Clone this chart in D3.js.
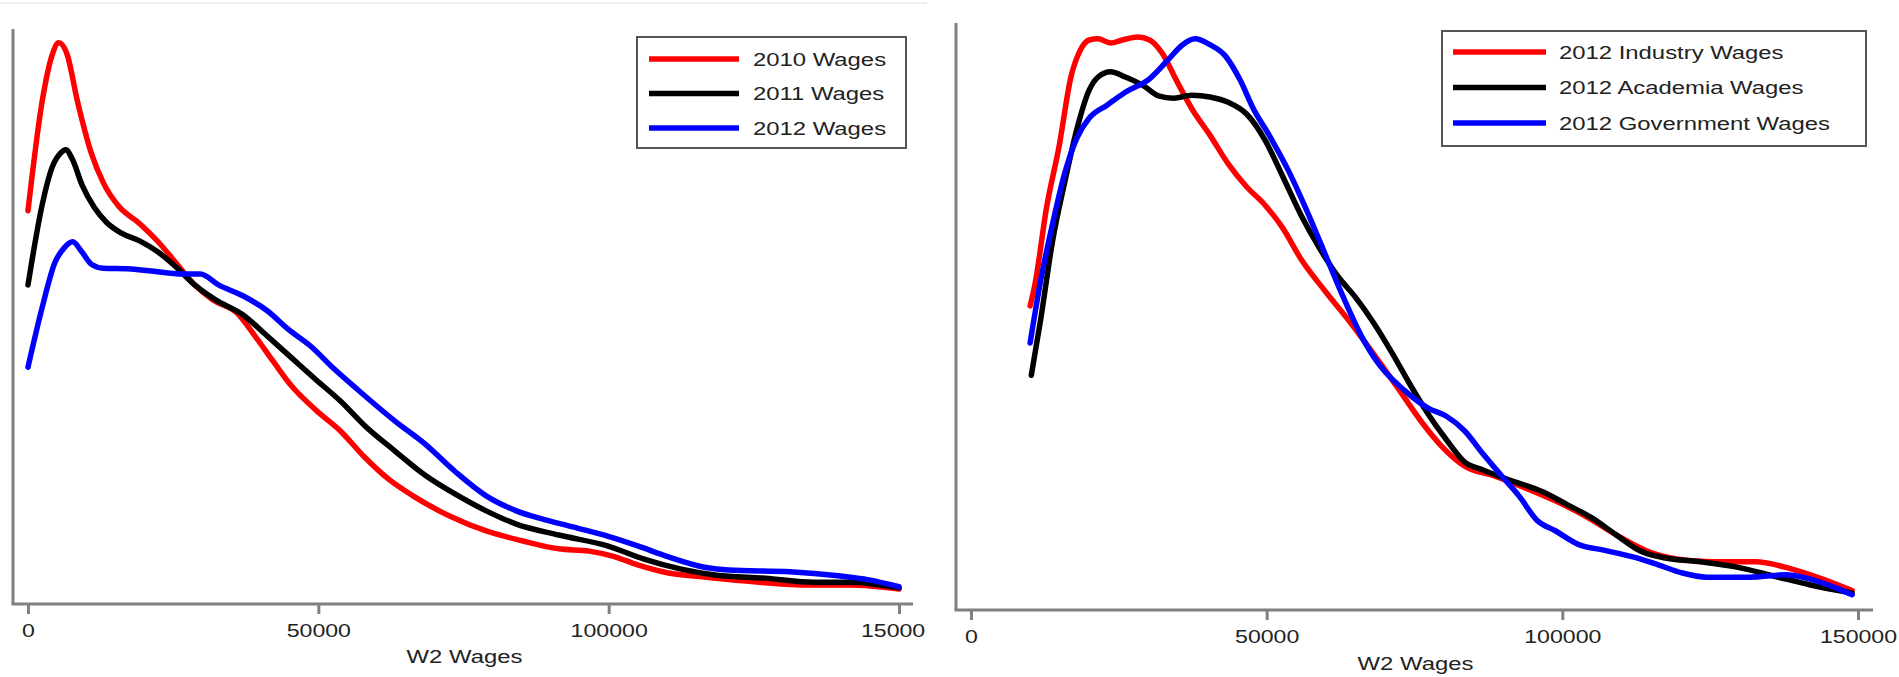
<!DOCTYPE html>
<html>
<head>
<meta charset="utf-8">
<script src="https://cdn.jsdelivr.net/npm/d3@7/dist/d3.min.js"></script>
<style>
  html, body { margin: 0; padding: 0; background: #fff; }
  svg { display: block; }
  text { font-family: "Liberation Sans", Arial, Helvetica, sans-serif; fill: #222; }
</style>
</head>
<body>
<svg id="chart" width="1899" height="677"></svg>
<script>
// Tick values shared by both panels (W2 wages, dollars)
const xTicks = [0, 50000, 100000, 150000];
const xTitle = "W2 Wages";

// Series names and colours
const yearLabels = ["2010 Wages", "2011 Wages", "2012 Wages"];
const sectorLabels = ["2012 Industry Wages", "2012 Academia Wages", "2012 Government Wages"];
const seriesColors = ["#ff0000", "#000000", "#0000ff"];

// Wage density by year (relative density, % of axis height)
const wages2010X = [0, 2500, 4100, 5300, 6700, 8500, 10900, 13000, 15600, 19300, 22400, 25500, 28700, 31800, 36000, 39100, 42300, 45400, 49600, 53800, 57900, 62100, 66300, 72600, 78900, 85100, 91400, 96600, 100800, 105000, 110300, 116500, 125900, 134300, 141600, 150000];
const wages2010Y = [68.4, 87.8, 95.3, 97.6, 95.7, 87.5, 78.4, 73.2, 69.2, 66.1, 63.0, 59.3, 55.5, 52.9, 50.6, 46.6, 42.1, 37.9, 33.7, 30.1, 25.6, 21.7, 18.8, 15.3, 12.7, 11.0, 9.6, 9.2, 8.3, 6.8, 5.4, 4.7, 3.8, 3.3, 3.3, 2.6];

const wages2011X = [0, 2500, 4100, 5600, 6500, 7700, 9300, 11400, 13500, 16100, 19300, 22400, 25500, 28700, 32300, 37000, 41200, 45400, 49600, 53800, 57900, 63200, 68400, 73600, 78900, 84100, 91400, 99800, 106100, 112300, 118600, 127000, 135400, 141600, 150000];
const wages2011Y = [55.5, 69.7, 75.8, 78.4, 79.0, 77.2, 72.9, 69.0, 66.4, 64.5, 63.1, 61.2, 58.6, 55.5, 52.9, 50.3, 46.6, 42.8, 39.0, 35.3, 31.1, 26.6, 22.4, 19.1, 16.2, 13.9, 12.0, 10.1, 7.8, 6.1, 5.0, 4.5, 3.8, 3.8, 2.8];

const wages2012X = [0, 2500, 4600, 6200, 7700, 9300, 10900, 13000, 17200, 21300, 26600, 29700, 32800, 37000, 41200, 44900, 48500, 52700, 57900, 63200, 68400, 73600, 78900, 84100, 89300, 94600, 99800, 105000, 110300, 116500, 120700, 131200, 139500, 144800, 150000];
const wages2012Y = [41.2, 51.8, 59.3, 61.9, 63.0, 61.2, 59.1, 58.4, 58.3, 57.9, 57.4, 57.4, 55.5, 53.6, 51.0, 47.7, 45.0, 40.9, 36.3, 31.8, 27.8, 23.0, 18.8, 16.2, 14.6, 13.2, 11.8, 10.1, 8.2, 6.4, 5.9, 5.6, 4.9, 4.2, 3.0];

// 2012 wage density by sector
const industryX = [10000, 10800, 12800, 14900, 16900, 18400, 20000, 21500, 23600, 25600, 28200, 30200, 32300, 34800, 37400, 40400, 43500, 46600, 49700, 52700, 55800, 59900, 64000, 68100, 72200, 76300, 79400, 83500, 88600, 93700, 98800, 103900, 109100, 114200, 119300, 125400, 132600, 138700, 143900, 149000];
const industryY = [51.8, 55.4, 68.7, 79.0, 90.8, 95.2, 97.1, 97.3, 96.6, 97.1, 97.6, 97.1, 94.9, 90.1, 85.3, 80.9, 76.0, 72.1, 69.0, 65.1, 59.8, 54.3, 49.2, 43.6, 37.8, 31.9, 28.1, 24.5, 22.8, 20.8, 18.6, 16.0, 12.8, 10.1, 8.7, 8.2, 8.2, 7.0, 5.3, 3.3];

const academiaX = [10200, 11800, 13800, 15900, 17900, 20000, 21500, 23600, 26100, 29200, 31700, 34300, 37400, 40400, 43500, 46600, 49700, 52700, 55800, 58900, 62000, 65000, 68100, 71200, 74200, 77300, 80400, 83500, 86500, 90600, 96800, 100900, 105000, 109100, 113100, 117200, 123400, 129500, 135700, 141800, 149000];
const academiaY = [40.0, 49.6, 62.9, 73.1, 81.9, 88.6, 90.8, 91.7, 90.8, 89.3, 87.6, 87.2, 87.7, 87.4, 86.5, 84.5, 80.1, 73.9, 67.3, 61.7, 56.9, 53.3, 48.9, 43.8, 38.5, 33.4, 29.0, 25.2, 23.9, 22.3, 20.1, 17.9, 15.7, 12.8, 10.1, 8.9, 8.2, 7.3, 5.8, 4.3, 2.9];

const governmentX = [10000, 11800, 13800, 15900, 17900, 20000, 23000, 26100, 30200, 33300, 35800, 37900, 40400, 43000, 45600, 47600, 50700, 53800, 56800, 59900, 63000, 66000, 69100, 73200, 77300, 80400, 83500, 86500, 89600, 92700, 95700, 98800, 102900, 107000, 112100, 116200, 120300, 124400, 131600, 137700, 141800, 145900, 149000];
const governmentY = [45.5, 56.2, 65.8, 74.6, 80.4, 83.8, 86.0, 88.2, 90.5, 93.7, 96.3, 97.3, 96.3, 94.4, 90.1, 85.7, 80.4, 74.6, 68.0, 60.6, 53.2, 46.7, 41.7, 37.5, 34.4, 33.0, 30.5, 26.7, 23.0, 19.4, 15.3, 13.5, 11.1, 10.2, 9.0, 7.7, 6.3, 5.6, 5.6, 6.0, 5.3, 3.9, 2.6];

// Glyphs in this figure are rendered wider than they are tall
const TEXT_STRETCH = 1.29;

const svg = d3.select("#chart");

// faint frame edge above the left panel
svg.append("line")
  .attr("x1", 0).attr("x2", 927).attr("y1", 3).attr("y2", 3)
  .attr("stroke", "#eeeeee").attr("stroke-width", 2);

function stretchedText(g, x, y, str, anchor) {
  return g.append("text")
    .attr("transform", `translate(${x},${y}) scale(${TEXT_STRETCH},1)`)
    .attr("text-anchor", anchor)
    .style("font-size", "18.5px")
    .text(str);
}

function drawPanel(cfg) {
  const g = svg.append("g");
  if (cfg.clipRight) {
    const id = "clip-" + cfg.id;
    svg.append("defs").append("clipPath").attr("id", id)
      .append("rect").attr("x", 0).attr("y", 0).attr("width", cfg.clipRight).attr("height", 677);
    g.attr("clip-path", `url(#${id})`);
  }

  const x = d3.scaleLinear().domain([0, 150000]).range([cfg.xStart, cfg.xEnd]);
  const y = d3.scaleLinear().domain([0, 100]).range([cfg.yBottom, cfg.yTop]);

  // axes
  const axisColor = "#808080";
  g.append("line")
    .attr("x1", cfg.axisLeft).attr("x2", cfg.axisLeft)
    .attr("y1", cfg.yTop).attr("y2", cfg.yBottom)
    .attr("stroke", axisColor).attr("stroke-width", 3);
  g.append("line")
    .attr("x1", cfg.axisLeft - 1.5).attr("x2", cfg.axisRight)
    .attr("y1", cfg.yBottom).attr("y2", cfg.yBottom)
    .attr("stroke", axisColor).attr("stroke-width", 3);

  const xAxis = g.append("g")
    .attr("transform", `translate(0,${cfg.yBottom})`)
    .call(d3.axisBottom(x).tickValues(xTicks).tickFormat(d3.format("d")).tickSize(10).tickSizeOuter(0));
  xAxis.select(".domain").remove();
  xAxis.selectAll(".tick line").attr("stroke", axisColor).attr("stroke-width", 3);
  xAxis.selectAll(".tick text")
    .attr("y", null).attr("dy", null)
    .attr("transform", `translate(0,${cfg.tickBaseline}) scale(${TEXT_STRETCH - 0.04},1)`)
    .attr("fill", "#222")
    .style("font-family", '"Liberation Sans", Arial, sans-serif')
    .style("font-size", "18.5px");

  stretchedText(g, (cfg.xStart + cfg.xEnd) / 2 + 1, cfg.titleBaseline, xTitle, "middle");

  // density curves
  const line = d3.line()
    .x(d => x(d[0]))
    .y(d => y(d[1]))
    .curve(d3.curveMonotoneX);

  cfg.series.forEach((s, i) => {
    const pts = s.x.map((v, k) => [v, s.y[k]]);
    g.append("path")
      .datum(pts)
      .attr("fill", "none")
      .attr("stroke", seriesColors[i])
      .attr("stroke-width", 5.5)
      .attr("stroke-linejoin", "round")
      .attr("stroke-linecap", "round")
      .attr("d", line);
  });

  // legend
  const L = cfg.legend;
  g.append("rect")
    .attr("x", L.x).attr("y", L.y).attr("width", L.w).attr("height", L.h)
    .attr("fill", "#fff").attr("stroke", "#555").attr("stroke-width", 2);
  cfg.labels.forEach((lab, i) => {
    const cy = L.firstRow + i * L.rowGap;
    g.append("line")
      .attr("x1", L.sampleX0).attr("x2", L.sampleX1)
      .attr("y1", cy).attr("y2", cy)
      .attr("stroke", seriesColors[i]).attr("stroke-width", 5.5);
    stretchedText(g, L.textX, cy + 6.5, lab, "start");
  });
}

drawPanel({
  id: "years",
  xStart: 28, xEnd: 899, yBottom: 604, yTop: 29,
  axisLeft: 13, axisRight: 913,
  tickBaseline: 33, titleBaseline: 663,
  clipRight: 925,
  series: [
    { x: wages2010X, y: wages2010Y },
    { x: wages2011X, y: wages2011Y },
    { x: wages2012X, y: wages2012Y }
  ],
  labels: yearLabels,
  legend: { x: 637, y: 37, w: 269, h: 111, sampleX0: 649, sampleX1: 739, textX: 753, firstRow: 59, rowGap: 34.5 }
});

drawPanel({
  id: "sectors",
  xStart: 971, xEnd: 1858, yBottom: 610, yTop: 23,
  axisLeft: 956, axisRight: 1873,
  tickBaseline: 33, titleBaseline: 670,
  clipRight: null,
  series: [
    { x: industryX, y: industryY },
    { x: academiaX, y: academiaY },
    { x: governmentX, y: governmentY }
  ],
  labels: sectorLabels,
  legend: { x: 1442, y: 31, w: 424, h: 115, sampleX0: 1453, sampleX1: 1546, textX: 1559, firstRow: 52, rowGap: 35.5 }
});
</script>
</body>
</html>
